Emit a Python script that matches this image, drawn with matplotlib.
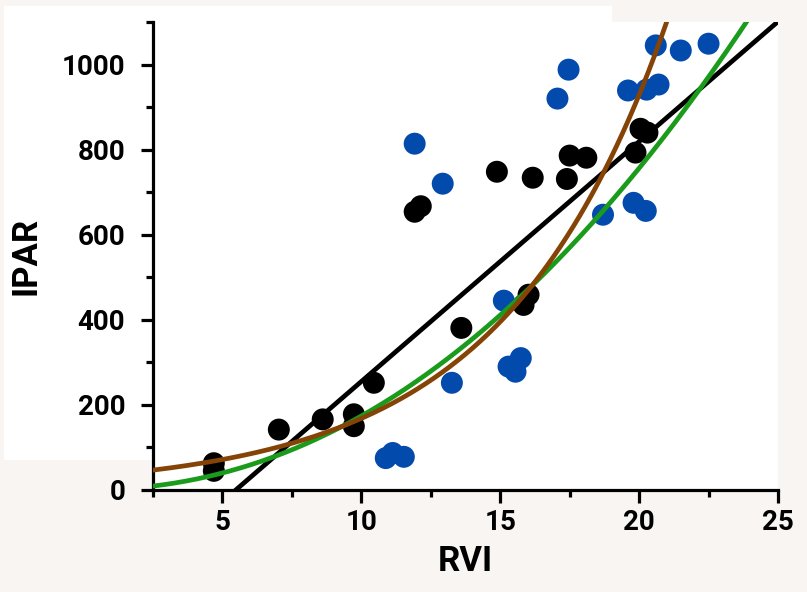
import numpy as np
import matplotlib
matplotlib.use("Agg")
import matplotlib.pyplot as plt
from matplotlib.patches import Rectangle
from matplotlib.ticker import MultipleLocator

# RVI vs IPAR observations, two groups
rvi_black = [4.69, 4.69, 7.03, 8.61, 9.73, 9.73, 10.45, 11.92, 12.14, 13.6,
             14.88, 16.17, 15.84, 16.02, 17.4, 17.5, 18.1, 19.87, 20.05, 20.3]
ipar_black = [63, 45, 142, 166, 178, 150, 252, 654, 667, 381,
              748, 734, 435, 459, 731, 786, 781, 793, 849, 840]

rvi_blue = [11.92, 12.93, 17.46, 17.06, 20.6, 21.5, 22.5, 19.6, 20.27, 20.7,
            18.7, 19.8, 20.24, 15.13, 15.74, 15.3, 15.55, 13.26, 10.88, 11.13, 11.53]
ipar_blue = [814, 720, 988, 920, 1045, 1033, 1049, 939, 941, 953,
             647, 675, 656, 445, 310, 290, 278, 252, 75, 87, 78]

# trend line coefficients
lin_slope, lin_icpt = 56.4, -309.0      # y = m*x + c
pow_coef, pow_exp = 1.32, 2.12          # y = a*x^b
exp_coef, exp_rate = 30.5, 0.1708       # y = a*exp(k*x)

x_ticks = [5, 10, 15, 20, 25]
y_ticks = [0, 200, 400, 600, 800, 1000]

BG = "#f8f5f2"
BLUE = "#034aad"
GREEN = "#1b9b1b"
BROWN = "#854306"

plt.rcParams['font.family'] = ['Roboto', 'DejaVu Sans']
plt.rcParams['font.weight'] = 'bold'

fig = plt.figure(figsize=(8.07, 5.92), dpi=100, facecolor=BG)
fig.patches.append(Rectangle((4 / 807, 1 - 460 / 592), 608 / 807, 454 / 592,
                             transform=fig.transFigure, facecolor="white",
                             edgecolor="none", zorder=-5))
ax = fig.add_axes([153 / 807, 1 - 490 / 592, 625 / 807, 468 / 592])
ax.set_zorder(2)
ax.set_facecolor("white")

ax.scatter(rvi_black, ipar_black, s=250, color="black", edgecolors="none", zorder=2)
ax.scatter(rvi_blue, ipar_blue, s=250, color=BLUE, edgecolors="none", zorder=2)

xs = np.linspace(2.5, 25, 400)
ax.plot(xs, lin_slope * xs + lin_icpt, color="black", lw=3.4, zorder=3)
ax.plot(xs, pow_coef * xs ** pow_exp, color=GREEN, lw=3.4, zorder=4)
ax.plot(xs, exp_coef * np.exp(exp_rate * xs), color=BROWN, lw=3.4, zorder=5)

ax.set_xlim(2.5, 25)
ax.set_ylim(0, 1100)
ax.set_xticks(x_ticks)
ax.set_yticks(y_ticks)
ax.xaxis.set_minor_locator(MultipleLocator(2.5))
ax.yaxis.set_minor_locator(MultipleLocator(100))

for side in ("top", "right"):
    ax.spines[side].set_visible(False)
for side in ("left", "bottom"):
    ax.spines[side].set_linewidth(2.3)

ax.tick_params(which="major", length=9, width=2.3, labelsize=20)
ax.tick_params(axis="y", which="major", pad=11)
ax.tick_params(axis="x", which="major", pad=5)
ax.tick_params(which="minor", length=5, width=2.3)

ax.set_xlabel("RVI", fontsize=25, fontweight="bold", labelpad=6)
ax.set_ylabel("IPAR", fontsize=25, fontweight="bold", labelpad=14)

fig.savefig("out.png", dpi=100, facecolor=BG)
